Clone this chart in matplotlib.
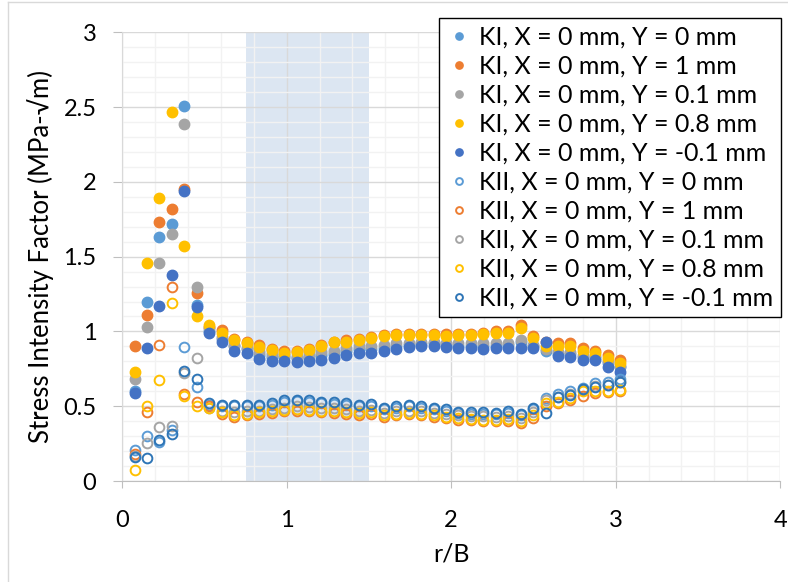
import matplotlib
matplotlib.use("Agg")
import matplotlib.pyplot as plt
from matplotlib.lines import Line2D
from matplotlib.ticker import MultipleLocator

plt.rcParams['font.family'] = ['Lato', 'DejaVu Sans']

# r/B positions (same for every series)
r_b = [0.076, 0.151, 0.227, 0.303, 0.379, 0.454, 0.530, 0.606, 0.681, 0.757,
       0.833, 0.908, 0.984, 1.060, 1.136, 1.211, 1.287, 1.363, 1.438, 1.514,
       1.590, 1.665, 1.741, 1.817, 1.893, 1.968, 2.044, 2.120, 2.195, 2.271,
       2.347, 2.422, 2.498, 2.574, 2.650, 2.725, 2.801, 2.877, 2.952, 3.028]

# KI, mode I
ki_y0 = [0.60, 1.195, 1.63, 1.72, 2.51, 1.18, 1.00, 0.95, 0.90, 0.88,
         0.84, 0.83, 0.83, 0.82, 0.83, 0.84, 0.85, 0.87, 0.88, 0.88,
         0.89, 0.90, 0.91, 0.915, 0.92, 0.91, 0.905, 0.905, 0.90, 0.905,
         0.91, 0.93, 0.90, 0.87, 0.85, 0.85, 0.83, 0.82, 0.79, 0.76]
ki_y1 = [0.90, 1.11, 1.735, 1.82, 1.95, 1.255, 1.03, 1.01, 0.95, 0.93,
         0.91, 0.885, 0.87, 0.87, 0.885, 0.91, 0.93, 0.94, 0.95, 0.96,
         0.975, 0.98, 0.98, 0.98, 0.985, 0.98, 0.985, 0.985, 0.99, 1.00,
         1.00, 1.04, 0.97, 0.93, 0.92, 0.92, 0.89, 0.87, 0.84, 0.81]
ki_y01 = [0.68, 1.03, 1.46, 1.65, 2.39, 1.30, 1.02, 0.96, 0.91, 0.89,
          0.86, 0.85, 0.84, 0.83, 0.845, 0.86, 0.87, 0.89, 0.90, 0.90,
          0.91, 0.92, 0.925, 0.93, 0.93, 0.925, 0.92, 0.92, 0.92, 0.925,
          0.92, 0.94, 0.91, 0.88, 0.86, 0.86, 0.84, 0.835, 0.80, 0.77]
ki_y08 = [0.73, 1.46, 1.89, 2.47, 1.57, 1.106, 1.043, 0.99, 0.943, 0.92,
          0.894, 0.876, 0.858, 0.86, 0.876, 0.905, 0.928, 0.93, 0.943, 0.955,
          0.97, 0.975, 0.975, 0.975, 0.975, 0.97, 0.975, 0.975, 0.98, 0.99,
          0.99, 1.02, 0.955, 0.90, 0.905, 0.905, 0.872, 0.858, 0.82, 0.787]
ki_ym01 = [0.59, 0.89, 1.17, 1.38, 1.94, 1.166, 0.988, 0.928, 0.87, 0.854,
           0.814, 0.805, 0.805, 0.794, 0.805, 0.81, 0.82, 0.843, 0.854, 0.858,
           0.87, 0.88, 0.894, 0.90, 0.905, 0.894, 0.888, 0.888, 0.88, 0.888,
           0.888, 0.888, 0.888, 0.928, 0.836, 0.83, 0.81, 0.81, 0.765, 0.73]

# KII, mode II
kii_y0 = [0.207, 0.303, 0.26, 0.34, 0.896, 0.631, 0.51, 0.50, 0.50, 0.50,
          0.50, 0.51, 0.53, 0.535, 0.53, 0.52, 0.515, 0.51, 0.50, 0.50,
          0.48, 0.49, 0.50, 0.49, 0.48, 0.47, 0.455, 0.45, 0.45, 0.45,
          0.455, 0.44, 0.48, 0.553, 0.58, 0.60, 0.625, 0.655, 0.665, 0.68]
kii_y1 = [0.18, 0.46, 0.91, 1.296, 0.58, 0.53, 0.50, 0.446, 0.43, 0.44,
          0.45, 0.455, 0.465, 0.47, 0.465, 0.46, 0.455, 0.45, 0.44, 0.445,
          0.43, 0.44, 0.445, 0.44, 0.43, 0.42, 0.41, 0.405, 0.40, 0.40,
          0.40, 0.39, 0.42, 0.50, 0.52, 0.54, 0.57, 0.59, 0.595, 0.60]
kii_y01 = [0.17, 0.252, 0.363, 0.37, 0.72, 0.82, 0.49, 0.47, 0.46, 0.47,
           0.47, 0.48, 0.49, 0.50, 0.495, 0.49, 0.485, 0.48, 0.47, 0.475,
           0.455, 0.465, 0.47, 0.465, 0.455, 0.45, 0.44, 0.435, 0.435, 0.43,
           0.435, 0.42, 0.46, 0.54, 0.565, 0.58, 0.61, 0.635, 0.645, 0.66]
kii_y08 = [0.074, 0.50, 0.676, 1.193, 0.57, 0.50, 0.49, 0.46, 0.44, 0.45,
           0.46, 0.465, 0.475, 0.48, 0.475, 0.47, 0.465, 0.46, 0.455, 0.46,
           0.44, 0.45, 0.455, 0.45, 0.44, 0.43, 0.42, 0.415, 0.41, 0.41,
           0.415, 0.40, 0.44, 0.52, 0.53, 0.553, 0.60, 0.60, 0.605, 0.61]
kii_ym01 = [0.158, 0.152, 0.274, 0.312, 0.738, 0.682, 0.52, 0.508, 0.505, 0.508,
            0.51, 0.52, 0.542, 0.545, 0.542, 0.53, 0.525, 0.52, 0.508, 0.515,
            0.486, 0.50, 0.51, 0.50, 0.49, 0.48, 0.464, 0.46, 0.46, 0.455,
            0.468, 0.446, 0.486, 0.453, 0.56, 0.575, 0.615, 0.63, 0.64, 0.664]

ki_series = [ki_y0, ki_y1, ki_y01, ki_y08, ki_ym01]
kii_series = [kii_y0, kii_y1, kii_y01, kii_y08, kii_ym01]
y_labels = ['0', '1', '0.1', '0.8', '-0.1']
colors = ['#5B9BD5', '#ED7D31', '#A5A5A5', '#FFC000', '#4472C4']
kii_colors = ['#5B9BD5', '#ED7D31', '#A5A5A5', '#FFC000', '#2E75B6']

fig = plt.figure(figsize=(7.88, 5.82), dpi=100)
ax = fig.add_axes([0.155, 0.1735, 0.835, 0.771])

ax.axvspan(0.75, 1.5, color='#DCE6F2', zorder=0, lw=0)

for vals, c, yl in zip(ki_series, colors, y_labels):
    ax.plot(r_b, vals, 'o', ms=7.5, color=c, mec=c, ls='none', zorder=3,
            label=f'KI, X = 0 mm, Y = {yl} mm')
for vals, c, yl in zip(kii_series, kii_colors, y_labels):
    ax.plot(r_b, vals, 'o', ms=7, mfc='none', mec=c, mew=1.4, ls='none', zorder=3,
            label=f'KII, X = 0 mm, Y = {yl} mm')

ax.set_xlim(0, 4)
ax.set_ylim(0, 3)
ax.xaxis.set_major_locator(MultipleLocator(1))
ax.xaxis.set_minor_locator(MultipleLocator(0.2))
ax.yaxis.set_major_locator(MultipleLocator(0.5))
ax.yaxis.set_minor_locator(MultipleLocator(0.1))
ax.set_yticks([0, 0.5, 1, 1.5, 2, 2.5, 3])
ax.set_yticklabels(['0', '0.5', '1', '1.5', '2', '2.5', '3'])
ax.set_axisbelow(True)
ax.grid(which='major', color='#D9D9D9', lw=1.0)
ax.grid(which='minor', color='#F2F2F2', lw=1.0)

for s in ['top', 'right']:
    ax.spines[s].set_visible(False)
ax.spines['left'].set_color('#D9D9D9')
ax.spines['bottom'].set_color('#BFBFBF')
ax.tick_params(axis='both', which='major', color='#BFBFBF',
               labelsize=17, labelcolor='black')
ax.tick_params(axis='x', which='major', length=5, pad=16)
ax.tick_params(axis='y', which='major', length=6.5, pad=12)
ax.tick_params(axis='both', which='minor', length=0)

ax.set_xlabel('r/B', fontsize=18, labelpad=8)
ax.set_ylabel('Stress Intensity Factor (MPa-√m)', fontsize=18.5, labelpad=7)

leg = fig.legend(loc='upper left', bbox_to_anchor=(439 / 788, 1 - 18 / 582),
                 fontsize=18, frameon=True, fancybox=False, framealpha=1,
                 edgecolor='black', handlelength=1.0, handletextpad=0.3,
                 labelspacing=0.24, borderpad=0.3, borderaxespad=0,
                 markerscale=0.7)
leg.get_frame().set_linewidth(1.0)

# chart area border (left / top edges)
fig.add_artist(Line2D([8 / 788, 8 / 788], [0, 1 - 2 / 582], color='#D9D9D9', lw=1))
fig.add_artist(Line2D([8 / 788, 1], [1 - 2 / 582, 1 - 2 / 582], color='#D9D9D9', lw=1))

fig.savefig('out.png', dpi=100)
